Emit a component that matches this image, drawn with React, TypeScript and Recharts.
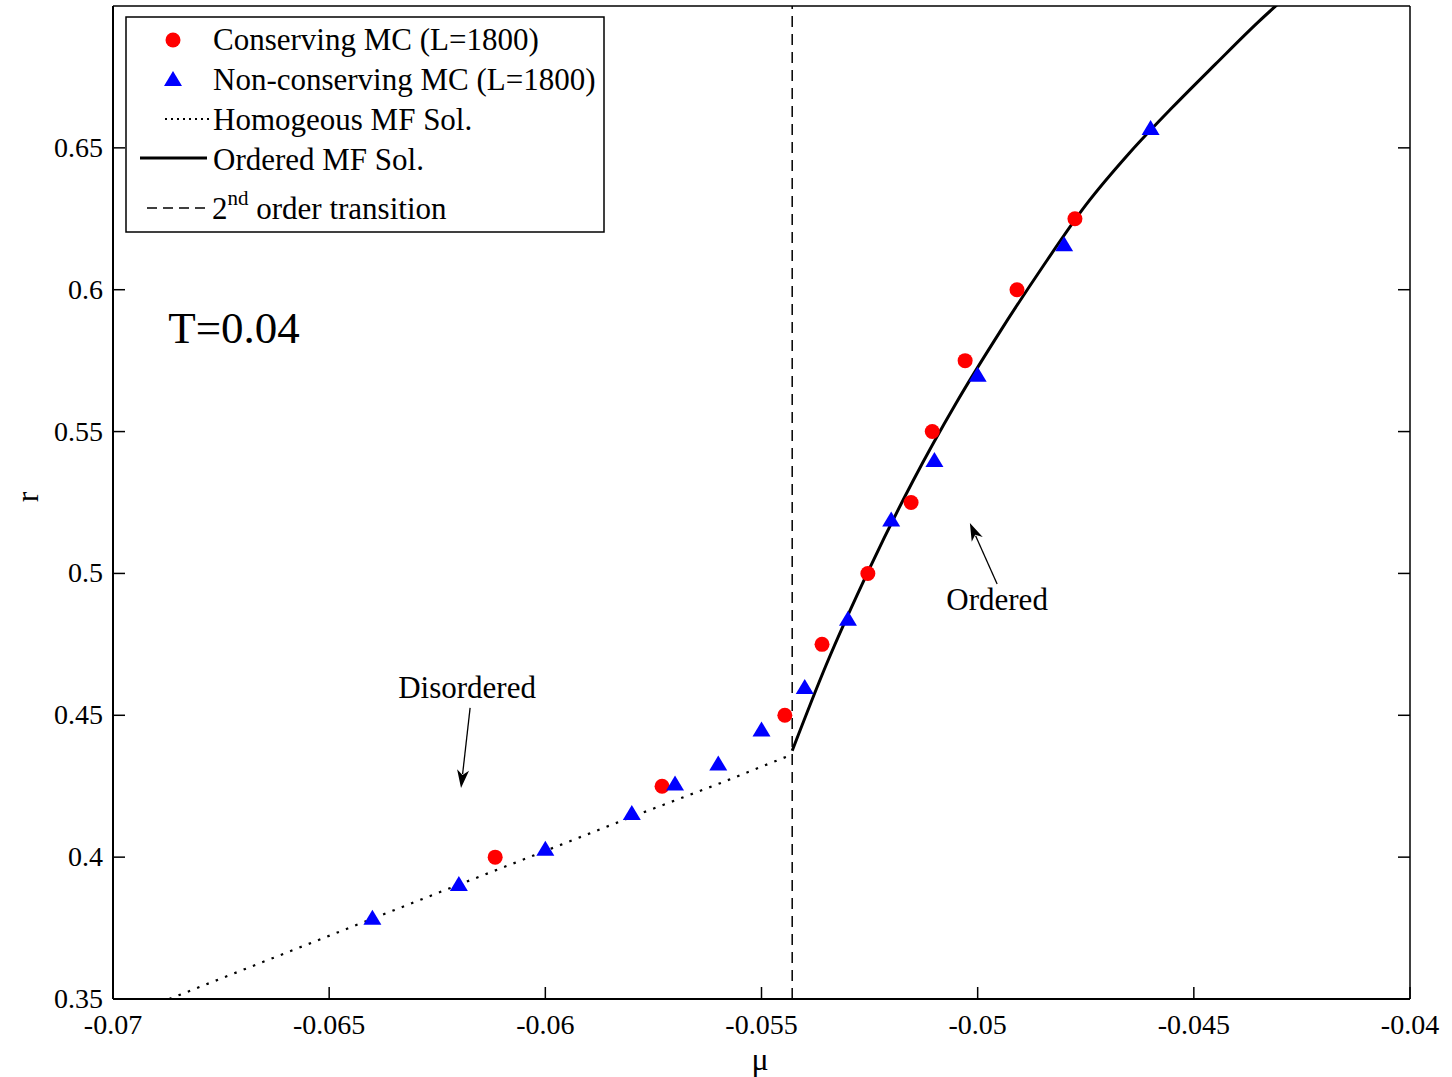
import React from 'react';
import {
  ComposedChart, XAxis, YAxis, Scatter, Line, ReferenceLine, ReferenceDot,
} from 'recharts';

// ---- data ----
const muTicks = [-0.07, -0.065, -0.06, -0.055, -0.05, -0.045, -0.04];
const rTicks = [0.35, 0.4, 0.45, 0.5, 0.55, 0.6, 0.65];

const consMu = [-0.06116, -0.0573, -0.05446, -0.0536, -0.05254, -0.05154, -0.05105, -0.05029, -0.04909, -0.04775];
const consR = [0.4, 0.425, 0.45, 0.475, 0.5, 0.525, 0.55, 0.575, 0.6, 0.625];

const nonMu = [-0.064, -0.062, -0.06, -0.058, -0.057, -0.056, -0.055, -0.054, -0.053, -0.052, -0.051, -0.05, -0.048, -0.046];
const nonR = [0.3786, 0.3905, 0.403, 0.4156, 0.426, 0.433, 0.445, 0.46, 0.484, 0.519, 0.54, 0.57, 0.616, 0.657];

const homMu = [-0.0687, -0.064, -0.062, -0.06, -0.058, -0.056, -0.05429];
const homR = [0.35, 0.3783, 0.3903, 0.4022, 0.4142, 0.4258, 0.4362];

const ordMu = [-0.05429, -0.0535, -0.0525, -0.0515, -0.0505, -0.0495, -0.0485, -0.0475, -0.0465, -0.0455, -0.0445, -0.0435, -0.04307];
const ordR = [0.4375, 0.4679, 0.5018, 0.5325, 0.56, 0.5848, 0.608, 0.6298, 0.648, 0.6642, 0.6795, 0.6945, 0.7005];

const criticalMu = -0.05429;

const consData = consMu.map((x, i) => ({ x, y: consR[i] }));
const nonData = nonMu.map((x, i) => ({ x, y: nonR[i] }));
const homData = homMu.map((x, i) => ({ x, y: homR[i] }));
const ordData = ordMu.map((x, i) => ({ x, y: ordR[i] }));

const FONT = '"Liberation Serif", "Times New Roman", serif';
const TM = 10;

const RedDot = (p: any) => <circle cx={p.cx} cy={p.cy} r={7.5} fill="#ff0000" />;
const BlueTri = (p: any) => (
  <polygon points={`${p.cx},${p.cy - 8} ${p.cx + 9},${p.cy + 7} ${p.cx - 9},${p.cy + 7}`} fill="#0000ff" />
);

const BottomTick = (p: any) => (
  <g>
    <line x1={p.x} y1={p.y - TM} x2={p.x} y2={p.y - TM - 12} stroke="#000" strokeWidth={1.5} />
    <text x={p.x} y={p.y} dy={25} textAnchor="middle" fontFamily={FONT} fontSize={28} fill="#000">
      {String(p.payload.value)}
    </text>
  </g>
);
const LeftTick = (p: any) => (
  <g>
    <line x1={p.x + TM} y1={p.y} x2={p.x + TM + 12} y2={p.y} stroke="#000" strokeWidth={1.5} />
    <text x={p.x} y={p.y} dy={9} textAnchor="end" fontFamily={FONT} fontSize={28} fill="#000">
      {String(p.payload.value)}
    </text>
  </g>
);
const TopTick = (p: any) => (
  <line x1={p.x} y1={p.y} x2={p.x} y2={p.y + 12} stroke="#000" strokeWidth={1.5} />
);
const RightTick = (p: any) => (
  <line x1={p.x} y1={p.y} x2={p.x - 12} y2={p.y} stroke="#000" strokeWidth={1.5} />
);

const Arrow = (p: any) => {
  const { x1, y1, x2, y2 } = p;
  const dx = x2 - x1, dy = y2 - y1;
  const len = Math.sqrt(dx * dx + dy * dy) || 1;
  const ux = dx / len, uy = dy / len;
  const L = 18, W = 6;
  const bx = x2 - ux * L, by = y2 - uy * L;
  const nx = -uy, ny = ux;
  return (
    <g>
      <line x1={x1} y1={y1} x2={bx + ux * 4} y2={by + uy * 4} stroke="#000" strokeWidth={1.3} />
      <polygon
        points={`${x2},${y2} ${bx + nx * W},${by + ny * W} ${bx + ux * 5},${by + uy * 5} ${bx - nx * W},${by - ny * W}`}
        fill="#000"
      />
    </g>
  );
};

const makeLabel = (txt: string, size: number) => (p: any) => (
  <text x={p.cx} y={p.cy} dy={size * 0.33} textAnchor="middle" fontFamily={FONT} fontSize={size} fill="#000">
    {txt}
  </text>
);

export default function App() {
  return (
    <div style={{ position: 'absolute', left: 0, top: 0, width: 1452, height: 1077, background: '#fff' }}>
      <ComposedChart
        width={1452}
        height={1077}
        margin={{ top: 5, left: 112, right: 41, bottom: 77 }}
      >
        <XAxis
          dataKey="x"
          type="number"
          domain={[-0.07, -0.04]}
          ticks={muTicks}
          interval={0}
          allowDataOverflow
          height={1}
          tickSize={0}
          tickMargin={TM}
          tick={BottomTick}
          axisLine={{ stroke: '#000', strokeWidth: 2 }}
        />
        <XAxis
          xAxisId="top"
          orientation="top"
          type="number"
          domain={[-0.07, -0.04]}
          ticks={muTicks}
          interval={0}
          allowDataOverflow
          height={1}
          tickSize={0}
          tickMargin={0}
          tick={TopTick}
          axisLine={{ stroke: '#000', strokeWidth: 1.5 }}
        />
        <YAxis
          type="number"
          domain={[0.35, 0.7]}
          ticks={rTicks}
          interval={0}
          allowDataOverflow
          width={1}
          tickSize={0}
          tickMargin={TM}
          tick={LeftTick}
          axisLine={{ stroke: '#000', strokeWidth: 2 }}
        />
        <YAxis
          yAxisId="right"
          orientation="right"
          type="number"
          domain={[0.35, 0.7]}
          ticks={rTicks}
          interval={0}
          allowDataOverflow
          width={1}
          tickSize={0}
          tickMargin={0}
          tick={RightTick}
          axisLine={{ stroke: '#000', strokeWidth: 1.5 }}
        />
        <ReferenceLine x={criticalMu} stroke="#000" strokeWidth={1.5} strokeDasharray="11 7" />
        <Line data={homData} dataKey="y" type="linear" stroke="#000" strokeWidth={2.2}
          strokeDasharray="2.5 7.5" dot={false} isAnimationActive={false} />
        <Line data={ordData} dataKey="y" type="monotone" stroke="#000" strokeWidth={3}
          dot={false} isAnimationActive={false} />
        <Scatter data={consData} dataKey="y" shape={RedDot} isAnimationActive={false} />
        <Scatter data={nonData} dataKey="y" shape={BlueTri} isAnimationActive={false} />
        <ReferenceDot x={-0.0672} y={0.5866} r={0} shape={makeLabel('T=0.04', 45)} />
        <ReferenceDot x={-0.06181} y={0.4597} r={0} shape={makeLabel('Disordered', 31)} />
        <ReferenceDot x={-0.04955} y={0.4907} r={0} shape={makeLabel('Ordered', 31)} />
        <ReferenceLine segment={[{ x: -0.06174, y: 0.4526 }, { x: -0.06195, y: 0.4244 }]} shape={Arrow} />
        <ReferenceLine segment={[{ x: -0.04955, y: 0.4963 }, { x: -0.05018, y: 0.5178 }]} shape={Arrow} />
      </ComposedChart>
      <svg width={1452} height={1077} style={{ position: 'absolute', left: 0, top: 0, pointerEvents: 'none' }}>
        <rect x={126} y={17} width={478} height={215} fill="#fff" stroke="#000" strokeWidth={1.5} />
        <circle cx={173} cy={40} r={7.5} fill="#ff0000" />
        <polygon points="173,71 182,86 164,86" fill="#0000ff" />
        <line x1={165} y1={119} x2={209} y2={119} stroke="#000" strokeWidth={2} strokeDasharray="2 4" />
        <line x1={140} y1={158} x2={207} y2={158} stroke="#000" strokeWidth={3} />
        <line x1={147} y1={208} x2={209} y2={208} stroke="#000" strokeWidth={1.5} strokeDasharray="10 6" />
        <g fontFamily={FONT} fontSize={31} fill="#000">
          <text x={213} y={50}>Conserving MC (L=1800)</text>
          <text x={213} y={90}>Non-conserving MC (L=1800)</text>
          <text x={213} y={130}>Homogeous MF Sol.</text>
          <text x={213} y={170}>Ordered MF Sol.</text>
          <text x={212} y={219}>2<tspan dy={-14} fontSize={21}>nd</tspan><tspan dy={14}> order transition</tspan></text>
        </g>
        <text x={760} y={1070} textAnchor="middle" fontFamily={FONT} fontSize={32} fill="#000">μ</text>
        <text x={0} y={0} transform="translate(38,497) rotate(-90)" textAnchor="middle" fontFamily={FONT} fontSize={32} fill="#000">r</text>
      </svg>
    </div>
  );
}
